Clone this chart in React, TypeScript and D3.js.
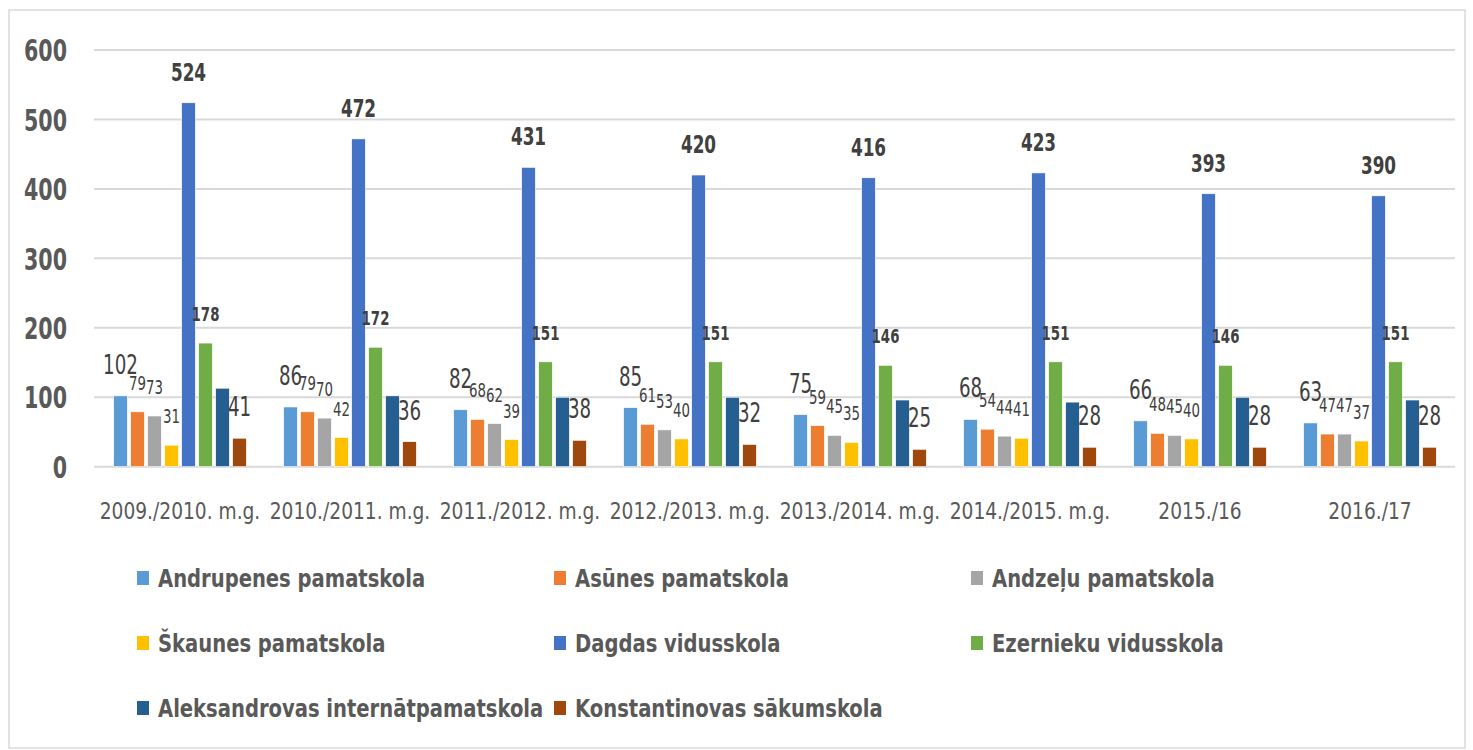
import * as d3 from "d3";

const years = [
  "2009./2010. m.g.",
  "2010./2011. m.g.",
  "2011./2012. m.g.",
  "2012./2013. m.g.",
  "2013./2014. m.g.",
  "2014./2015. m.g.",
  "2015./16",
  "2016./17",
];

const schools = [
  "Andrupenes pamatskola",
  "Asūnes pamatskola",
  "Andzeļu pamatskola",
  "Škaunes pamatskola",
  "Dagdas vidusskola",
  "Ezernieku vidusskola",
  "Aleksandrovas internātpamatskola",
  "Konstantinovas sākumskola",
];

const andrupenes = [102, 86, 82, 85, 75, 68, 66, 63];
const asunes = [79, 79, 68, 61, 59, 54, 48, 47];
const andzelu = [73, 70, 62, 53, 45, 44, 45, 47];
const skaunes = [31, 42, 39, 40, 35, 41, 40, 37];
const dagdas = [524, 472, 431, 420, 416, 423, 393, 390];
const ezernieku = [178, 172, 151, 151, 146, 151, 146, 151];
const aleksandrovas = [113, 102, 100, 100, 96, 93, 100, 96];
const konstantinovas = [41, 36, 38, 32, 25, 28, 28, 28];

const yTicks = [0, 100, 200, 300, 400, 500, 600];

const series = [andrupenes, asunes, andzelu, skaunes, dagdas, ezernieku, aleksandrovas, konstantinovas];
const colors = ["#5B9BD5", "#ED7D31", "#A5A5A5", "#FFC000", "#4472C4", "#70AD47", "#255E91", "#9E480E"];

// label style per series: [fontSize, weight, shown]
const labelStyle: [number, string, boolean][] = [
  [26, "normal", true],
  [19, "normal", true],
  [19, "normal", true],
  [19, "normal", true],
  [24, "bold", true],
  [19, "bold", true],
  [19, "normal", false],
  [26, "normal", true],
];

const font = "'DejaVu Sans Condensed', 'Liberation Sans', sans-serif";

// condensed text: squeeze horizontally to look like the narrow office font
function T(props: any) {
  const { x, y, sx, children, ...rest } = props;
  return (
    <text transform={`translate(${x},${y}) scale(${sx},1)`} fontFamily={font} {...rest}>
      {children}
    </text>
  );
}

export default function App() {
  const width = 1473;
  const height = 750;
  const left = 95;
  const right = 1455;
  const top = 50;
  const bottom = 466.7;

  const x0 = d3.scaleBand().domain(years).range([left, right]).paddingInner(0.18).paddingOuter(0.09);
  const x1 = d3.scaleBand().domain(schools).range([0, x0.bandwidth()]).padding(0.2);
  const y = d3.scaleLinear().domain([0, 600]).range([bottom, top]);

  const legendCols = [137, 554, 971];
  const legendRows = [578, 643, 708];

  return (
    <svg
      width={width}
      height={height}
      style={{ position: "absolute", left: 0, top: 0, display: "block", background: "#fff" }}
    >
      <rect x={9} y={10} width={1456} height={738} fill="#fff" stroke="#D9D9D9" strokeWidth={1.5} />
      {yTicks.map((t) => (
        <g key={t}>
          <line x1={left - 1} x2={right} y1={y(t)} y2={y(t)} stroke="#D9D9D9" strokeWidth={2} />
          <T x={67} y={y(t)} sx={0.74} dy="0.36em" textAnchor="end" fontSize={31} fontWeight="bold" fill="#595959">
            {t}
          </T>
        </g>
      ))}
      {years.map((yr, i) => (
        <g key={yr} transform={`translate(${x0(yr)},0)`}>
          {series.map((s, j) => (
            <rect
              key={j}
              x={x1(schools[j])}
              y={y(s[i])}
              width={x1.bandwidth()}
              height={bottom - y(s[i])}
              fill={colors[j]}
              stroke="#fff"
              strokeWidth={0.6}
            />
          ))}
          {series.map((s, j) =>
            labelStyle[j][2] ? (
              <T
                key={"l" + j}
                x={(x1(schools[j]) as number) + x1.bandwidth() / 2}
                y={y(s[i]) - 22}
                sx={0.78}
                textAnchor="middle"
                fontSize={labelStyle[j][0]}
                fontWeight={labelStyle[j][1]}
                fill="#404040"
              >
                {s[i]}
              </T>
            ) : null
          )}
          <T x={x0.bandwidth() / 2} y={511} sx={0.9} dy="0.35em" textAnchor="middle" fontSize={23} fill="#595959">
            {yr}
          </T>
        </g>
      ))}
      {schools.map((name, j) => {
        const cx = legendCols[j % 3];
        const cy = legendRows[Math.floor(j / 3)];
        return (
          <g key={name}>
            <rect x={cx} y={cy - 7} width={12} height={14} fill={colors[j]} />
            <T x={cx + 21} y={cy} sx={0.87} dy="0.35em" fontSize={25} fontWeight="bold" fill="#595959">
              {name}
            </T>
          </g>
        );
      })}
    </svg>
  );
}
